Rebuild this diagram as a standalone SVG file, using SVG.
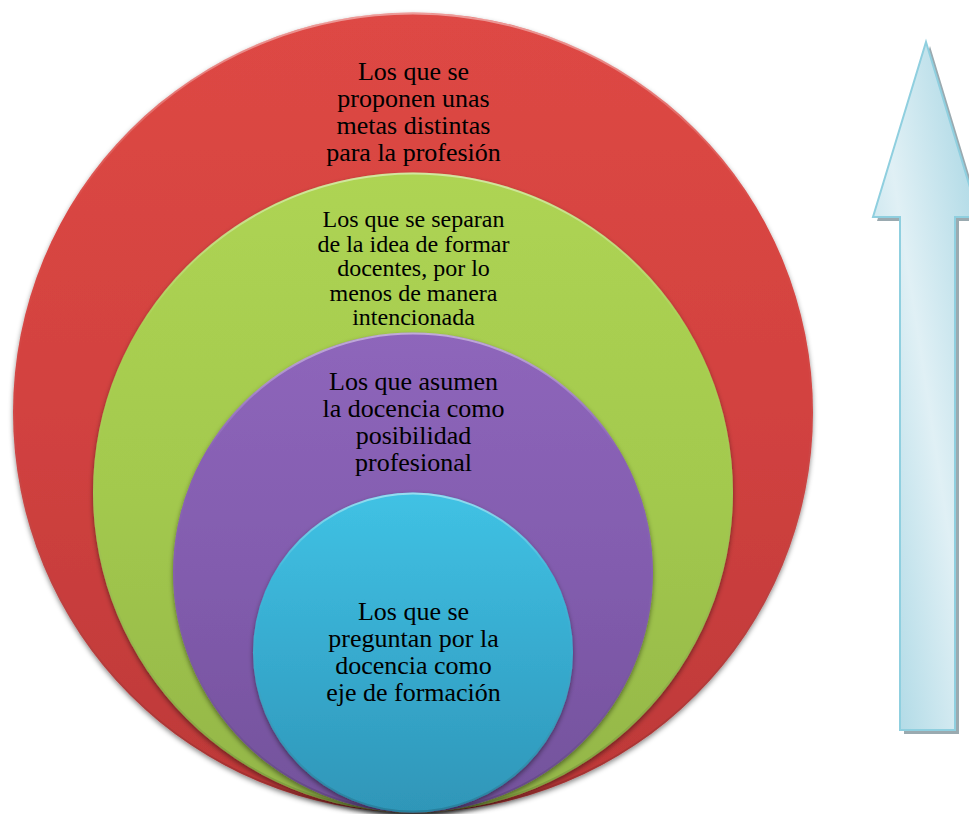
<svg xmlns="http://www.w3.org/2000/svg" width="969" height="814" viewBox="0 0 969 814">
  <defs>
    <style>
      .lbl { font-family: "Liberation Serif", "Times New Roman", serif; fill: #000; text-anchor: middle; }
      .big { font-size: 26px; }
      .mid { font-size: 24px; }
      .ring { filter: url(#shadow); }
    </style>
    <filter id="shadow" x="-10%" y="-10%" width="120%" height="120%">
      <feDropShadow dx="0" dy="2.5" stdDeviation="2.5" flood-color="#000" flood-opacity="0.45"/>
    </filter>
    <linearGradient id="gRed" x1="0" y1="0" x2="0" y2="1">
      <stop offset="0" stop-color="#de4844"/>
      <stop offset="0.5" stop-color="#d24240"/>
      <stop offset="1" stop-color="#bc3838"/>
    </linearGradient>
    <linearGradient id="gGreen" x1="0" y1="0" x2="0" y2="1">
      <stop offset="0" stop-color="#aed453"/>
      <stop offset="0.5" stop-color="#a3c94e"/>
      <stop offset="1" stop-color="#93b548"/>
    </linearGradient>
    <linearGradient id="gPurple" x1="0" y1="0" x2="0" y2="1">
      <stop offset="0" stop-color="#8e66bb"/>
      <stop offset="0.5" stop-color="#825cae"/>
      <stop offset="1" stop-color="#73529b"/>
    </linearGradient>
    <linearGradient id="gBlue" x1="0" y1="0" x2="0" y2="1">
      <stop offset="0" stop-color="#40c2e4"/>
      <stop offset="0.5" stop-color="#37abcf"/>
      <stop offset="1" stop-color="#2f96b8"/>
    </linearGradient>
    <linearGradient id="gRim" x1="0" y1="0" x2="0" y2="1">
      <stop offset="0" stop-color="#fff" stop-opacity="0.45"/>
      <stop offset="0.25" stop-color="#fff" stop-opacity="0"/>
      <stop offset="1" stop-color="#000" stop-opacity="0.15"/>
    </linearGradient>
    <linearGradient id="gArrow" x1="1" y1="0" x2="0" y2="1">
      <stop offset="0" stop-color="#a3d4e2"/>
      <stop offset="0.5" stop-color="#e0f0f5"/>
      <stop offset="1" stop-color="#a3d4e2"/>
    </linearGradient>
  </defs>
  <rect width="969" height="814" fill="#fff"/>

  <g id="arrow">
    <path d="M930,46 L983,221 L959,221 L959,734 L904,734 L904,221 L877,221 Z" fill="#9aaab0"/>
    <path d="M926,42 L979,217 L955,217 L955,730 L900,730 L900,217 L873,217 Z" fill="url(#gArrow)" stroke="#8fcfdf" stroke-width="2" stroke-linejoin="miter"/>
  </g>

  <g id="connectors"/>

  <g id="node-red">
    <circle class="ring" cx="413" cy="412.5" r="400" fill="url(#gRed)"/>
    <circle cx="413" cy="412.5" r="399" fill="none" stroke="url(#gRim)" stroke-width="2"/>
    <text class="lbl big" x="413.5" y="80">Los que se</text>
    <text class="lbl big" x="413.5" y="107">proponen unas</text>
    <text class="lbl big" x="413.5" y="134">metas distintas</text>
    <text class="lbl big" x="413.5" y="161">para la profesión</text>
  </g>

  <g id="node-green">
    <circle class="ring" cx="413" cy="492.5" r="320" fill="url(#gGreen)"/>
    <circle cx="413" cy="492.5" r="319" fill="none" stroke="url(#gRim)" stroke-width="2"/>
    <text class="lbl mid" x="413.5" y="227">Los que se separan</text>
    <text class="lbl mid" x="413.5" y="251.5">de la idea de formar</text>
    <text class="lbl mid" x="413.5" y="276">docentes, por lo</text>
    <text class="lbl mid" x="413.5" y="300.5">menos de manera</text>
    <text class="lbl mid" x="413.5" y="325">intencionada</text>
  </g>

  <g id="node-purple">
    <circle class="ring" cx="413" cy="572.5" r="240" fill="url(#gPurple)"/>
    <circle cx="413" cy="572.5" r="239" fill="none" stroke="url(#gRim)" stroke-width="2"/>
    <text class="lbl big" x="413.5" y="390">Los que asumen</text>
    <text class="lbl big" x="413.5" y="417">la docencia como</text>
    <text class="lbl big" x="413.5" y="444">posibilidad</text>
    <text class="lbl big" x="413.5" y="471">profesional</text>
  </g>

  <g id="node-blue">
    <circle class="ring" cx="413" cy="652.5" r="160" fill="url(#gBlue)"/>
    <circle cx="413" cy="652.5" r="159" fill="none" stroke="url(#gRim)" stroke-width="2"/>
    <text class="lbl big" x="413.5" y="620">Los que se</text>
    <text class="lbl big" x="413.5" y="647">preguntan por la</text>
    <text class="lbl big" x="413.5" y="674">docencia como</text>
    <text class="lbl big" x="413.5" y="701">eje de formación</text>
  </g>
</svg>
